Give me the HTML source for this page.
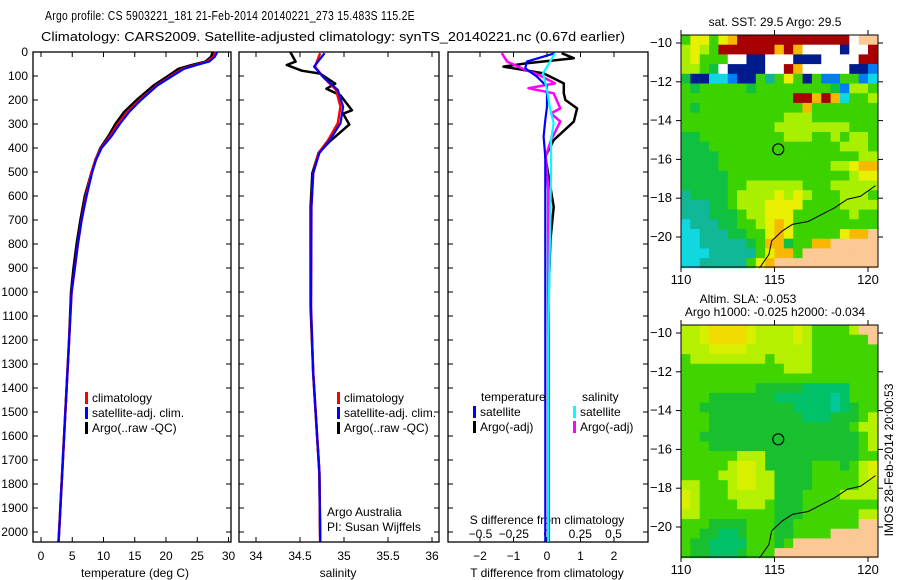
<!DOCTYPE html>
<html><head><meta charset="utf-8">
<style>
html,body{margin:0;padding:0;background:#fff;}
svg{display:block;font-family:"Liberation Sans",sans-serif;}
text{fill:#000;}
</style></head>
<body>
<svg id="fig" width="900" height="580" viewBox="0 0 900 580" font-size="12" xmlns="http://www.w3.org/2000/svg">
<text x="0" y="0" transform="translate(45,20) scale(0.8,1)" font-size="13" textLength="462" lengthAdjust="spacing">Argo profile: CS 5903221_181 21-Feb-2014 20140221_273 15.483S 115.2E</text>
<text x="41" y="41" font-size="13" textLength="584" lengthAdjust="spacingAndGlyphs">Climatology: CARS2009. Satellite-adjusted climatology: synTS_20140221.nc (0.67d earlier)</text>
<g id="g"></g>
</svg>
<script>
// ---------- data ----------
const tempDepth=[0,20,40,55,70,100,140,200,250,300,350,400,450,500,600,700,800,900,1000,1200,1400,1600,1800,2000,2040];
const tempClim=[28,27.6,26.6,24.6,22.7,20.8,18.5,15.8,13.8,12.3,11.1,9.6,8.7,8.1,7.2,6.5,5.9,5.4,4.9,4.5,4.1,3.7,3.3,2.9,2.8];
const tempSat=[28.2,27.8,26.9,24.8,22.9,21.0,18.6,16.0,14.1,12.6,11.3,9.7,8.8,8.2,7.3,6.5,5.9,5.4,4.9,4.5,4.1,3.7,3.3,2.9,2.8];
const tempArgo=[27.5,27.2,26.3,24.0,22.0,20.3,18.0,15.3,13.3,11.9,10.8,9.5,8.7,8.1,7.0,6.3,5.7,5.2,4.8,4.5,4.1,3.7,3.3,2.9,2.8];
const salDepth=[5,61,103,158,228,297,367,421,505,645,1062,1338,1754,2040];
const salClim=[34.73,34.67,34.76,34.91,34.96,34.93,34.82,34.71,34.65,34.63,34.625,34.65,34.72,34.73];
const salSat=[34.78,34.66,34.76,34.93,34.99,34.96,34.84,34.72,34.65,34.63,34.625,34.65,34.72,34.73];
const argoSalDepth=[0,40,54,78,90,132,153,181,243,257,302,372,421,505,645,1062,1338,1754,2040];
const argoSal=[34.39,34.45,34.35,34.52,34.73,34.9,34.8,34.96,35.09,34.99,35.06,34.84,34.71,34.64,34.62,34.62,34.65,34.72,34.73];
const dTDepth=[5,40,68,103,144,228,283,353,436,700,1200,2040];
const dTSat=[0.24,-0.6,-0.65,-0.3,0,0,-0.05,-0.1,-0.05,-0.05,-0.05,-0.05];
const dSDepth=[5,89,158,228,297,367,506,1200,2040];
const dSSat=[0.06,-0.03,0,0.02,0.05,0.03,0.03,0.01,0.01];
const argoDTDepth=[5,26,47,61,89,131,172,200,235,290,367,436,645,784,1000,2040];
const argoDT=[0.44,0.8,-0.6,-1.3,-0.1,0.5,0.5,0.55,0.9,0.8,0.2,-0.05,0.2,0.1,0.05,0.05];
const argoDSDepth=[5,40,75,96,131,151,172,235,256,290,367,436,575,784,2040];
const argoDS=[-0.34,-0.3,-0.16,-0.06,0.06,-0.14,0.05,0.1,0.03,0.1,0.03,-0.01,0.01,0.01,0.01];
const depthTicks=[0,100,200,300,400,500,600,700,800,900,1000,1100,1200,1300,1400,1500,1600,1700,1800,1900,2000];
const tempTicks=[0,5,10,15,20,25,30];
const salTicks=[34,34.5,35,35.5,36];
const dTTicks=[-2,-1,0,1,2];
const dSTicks=[-0.5,-0.25,0,0.25,0.5];
const latTicks=[-10,-12,-14,-16,-18,-20];
const lonTicks=[110,115,120];
const sstGrid=[
"gYYgYORRRRRRRRRRRRWLL","yYygRRRRRROROWWWWNWWR","yYgggWWNNWWWNNNWWWWRR","yygGWNNNNWWROWWWWWNNb",
"GNNccbNNgtgYgNgbbggbc","gGgggggGggggggggGbyyg","ggggggggggggRROROcggy","gGgggggggggggOggggggg",
"gggggggggggyyyggggggg","ggggggggggyyyyyyyyggg","GGgggggggggyyyggygyyg","GGGggggggggggggggyyyg",
"GGGGgggggggggggggggyy","GGGGggggggggggggyyYOO","GGGGGgggggggggggggyYY","GGGGGggyyyyyygggyyyyy",
"tGGGGgyyyyYyYygggyyyg","tttGGgyyyYYYYggggyyyy","tttGGGgyyYYYggggggygg","ctttGGggyYOYggggggggg",
"cctttGGggYOYgggggYOOL","cctttttGgOOGggOOLLLLL","ccctttttgYOOgLLLLLLLL","cctttttgYOLLLLLLLLLLL"];
const slaGrid=[
"yyYOOOOYyyyyYyggggyLL","yyYOOOOYyyyyYyggggggL","yyyYYYYyyyyyyyggggggg","gyyyyyyyygyyyyggggggg",
"gggggggggggyyyggggggg","ggggggggggggggggggggg","ggggggggGGGGGtttttggg","gggGGGGGGGttttttctggg",
"ggGGGGGGGGGGttttctGgg","gggGGGGGGGGGGtttGGGgy","gggGGGGGGGGGGGGGGGgyy","ggGGGGGGGGGGGGGGGGGgy",
"gggGGGGGGGGGGGGGGGGgy","ggggggyyyGGGGGGGGGGgg","gggggyYYyGGGGGgggGgyY","ggggyyYYyyGGGGgggggyY",
"yygggyYYyyGGGGgggggyy","YygggyyyyyGGGggggyyyy","YyggggyyygGGGgggggggg","yyggggggggGGGggggggyy",
"gggGGGGgggGGgggggggLL","ggGGttGgggGGggggLLLLL","gGGttttgggGgLLLLLLLLL","gGGtttGgggLLLLLLLLLLL"];
const sstColors={g:"#3cd200",G:"#10c040",y:"#a8f000",Y:"#e8f000",O:"#f8b800",R:"#a80000",N:"#001c8c",W:"#ffffff",L:"#fbc896",c:"#10d8e0",t:"#10b898",b:"#0080f0"};
const slaColors={g:"#40d400",G:"#18c030",t:"#00c068",c:"#00c898",y:"#b4f000",Y:"#d8f000",O:"#f0dc00",L:"#fbc896"};
const isobathLon=[114.2,114.7,114.85,115.4,115.95,116.8,117.5,118.2,118.9,119.6,120.4];
const isobathLat=[-21.6,-20.9,-20.2,-19.7,-19.35,-19.2,-18.85,-18.5,-18.05,-17.9,-17.35];
const argoLon=115.2, argoLat=-15.48;

// ---------- helpers ----------
const NS="http://www.w3.org/2000/svg";
const G=document.getElementById('g');
function el(tag,attrs,parent){const e=document.createElementNS(NS,tag);for(const k in attrs)e.setAttribute(k,attrs[k]);(parent||G).appendChild(e);return e;}
function txt(s,x,y,anchor,extra){const t=el('text',Object.assign({x:x,y:y,'text-anchor':anchor||'start'},extra||{}));t.textContent=s;return t;}
const yD=d=>52+d*0.24;
const xT=v=>41+v*6.25;
const xS=v=>256+(v-34)*88;
const xDT=v=>547+v*33.5;
const xDS=v=>547+v*133;
function line(xs,ds,fx,color,w,name){
  const pts=xs.map((v,i)=>fx(v).toFixed(1)+","+yD(ds[i]).toFixed(1)).join(" ");
  const p=el('polyline',{points:pts,fill:'none',stroke:color,'stroke-width':w,'stroke-linejoin':'round'});
  
  
}
function panel(x0,x1,name){
  const r=el('rect',{x:x0,y:52,width:x1-x0,height:490,fill:'none',stroke:'#000','stroke-width':1.3});
  
  
  depthTicks.forEach(d=>{el('line',{x1:x0,x2:x0+5,y1:yD(d),y2:yD(d),stroke:'#000'});el('line',{x1:x1-5,x2:x1,y1:yD(d),y2:yD(d),stroke:'#000'});});
}
function xTicks(vals,fx,y,lab,labY){
  vals.forEach(v=>{el('line',{x1:fx(v),x2:fx(v),y1:542,y2:537,stroke:'#000'});el('line',{x1:fx(v),x2:fx(v),y1:52,y2:57,stroke:'#000'});
    if(lab){const t=txt(String(v).replace('-','\u2212'),fx(v),labY,'middle');}});
}
function legend(x,y,items){items.forEach((it,i)=>{el('rect',{x:x,y:y+i*15-10,width:3,height:12,fill:it[0]});const t=txt(it[1],x+7,y+i*15);});}

// ---------- panel 1: temperature ----------
panel(33,231,'temperature-panel');
depthTicks.forEach(d=>{const t=txt(String(d),28,yD(d)+4,'end');});
xTicks(tempTicks,xT,542,true,560);
let t1=txt('temperature (deg C)',135,577,'middle');
line(tempArgo,tempDepth,xT,'#000',2.5,'argo-temperature-line');
line(tempClim,tempDepth,xT,'#f00',2.5,'clim-temperature-line');
line(tempSat,tempDepth,xT,'#00f',2.2,'sat-temperature-line');
legend(85,402,[['#f00','climatology'],['#00f','satellite-adj. clim.'],['#000','Argo(..raw -QC)']]);

// ---------- panel 2: salinity ----------
panel(239,439,'salinity-panel');
xTicks(salTicks,xS,542,true,560);
let t2=txt('salinity',338,577,'middle');
line(argoSal,argoSalDepth,xS,'#000',2.5,'argo-salinity-line');
line(salClim,salDepth,xS,'#f00',2.5,'clim-salinity-line');
line(salSat,salDepth,xS,'#00f',2.2,'sat-salinity-line');
legend(337,402,[['#f00','climatology'],['#00f','satellite-adj. clim.'],['#000','Argo(..raw -QC)']]);
let a1=txt('Argo Australia',327,516);
let a2=txt('PI: Susan Wijffels',327,531);

// ---------- panel 3: differences ----------
panel(448,648,'difference-panel');
xTicks(dTTicks,xDT,542,true,560);
dSTicks.forEach(v=>{const t=txt(String(v).replace('-','\u2212'),xDS(v),538,'middle');});
let t3=txt('S difference from climatology',547,524,'middle');
let t4=txt('T difference from climatology',547,577,'middle');
line(argoDT,argoDTDepth,xDT,'#000',2.5,'argo-t-diff-line');
line(argoDS,argoDSDepth,xDS,'#f0f',2.5,'argo-s-diff-line');
line(dTSat,dTDepth,xDT,'#00f',2.2,'sat-t-diff-line');
line(dSSat,dSDepth,xDS,'#0ff',2.2,'sat-s-diff-line');
let l1=txt('temperature',481,401);
let l2=txt('salinity',582,401);
legend(473,416,[['#00f','satellite'],['#000','Argo(-adj)']]);
legend(573,416,[['#0ff','satellite'],['#f0f','Argo(-adj)']]);

// ---------- maps ----------
const xL=lon=>681+(lon-110)*18.7;
function drawMap(grid,colors,top,name){
  const yL=lat=>top+8+(-10-lat)*19.4;
  const g=el('g',{});
  
  
  const cw=18.7/2, ch=9.7;
  grid.forEach((row,j)=>{for(let i=0;i<row.length;i++){el('rect',{x:(681+i*cw).toFixed(2),y:(top+j*ch).toFixed(2),width:(cw+0.4).toFixed(2),height:(ch+0.4).toFixed(2),fill:colors[row[i]]},g);}});
  const pts=isobathLon.map((v,i)=>xL(v).toFixed(1)+","+yL(isobathLat[i]).toFixed(1)).join(" ");
  el('polyline',{points:pts,fill:'none',stroke:'#000','stroke-width':1},g);
  el('rect',{x:681,y:top,width:197,height:232,fill:'none',stroke:'#000','stroke-width':1},g);
  const c=el('circle',{cx:xL(argoLon),cy:yL(argoLat),r:5.5,fill:'none',stroke:'#000','stroke-width':1.2},g);
  
  
  latTicks.forEach(v=>{el('line',{x1:676,x2:681,y1:yL(v),y2:yL(v),stroke:'#000'});el('line',{x1:878,x2:883,y1:yL(v),y2:yL(v),stroke:'#000'});
    const t=txt(String(v).replace('-','\u2212'),672,yL(v)+4,'end',{'font-size':'13'});});
  lonTicks.forEach(v=>{el('line',{x1:xL(v),x2:xL(v),y1:top+232,y2:top+237,stroke:'#000'});el('line',{x1:xL(v),x2:xL(v),y1:top-5,y2:top,stroke:'#000'});
    const t=txt(String(v),xL(v),top+249,'middle',{'font-size':'13'});});
}
drawMap(sstGrid,sstColors,35,'sst-map');
drawMap(slaGrid,slaColors,325,'sla-map');
let m1=txt('sat. SST: 29.5 Argo: 29.5',775,26,'middle');
let m2=txt('Altim. SLA: -0.053',748,303,'middle');
let m3=txt('Argo h1000: -0.025 h2000: -0.034',775,316,'middle');
let im=txt('IMOS 28-Feb-2014 20:00:53',0,0,'middle',{transform:'translate(893,460) rotate(-90)'});
</script>
</body></html>
